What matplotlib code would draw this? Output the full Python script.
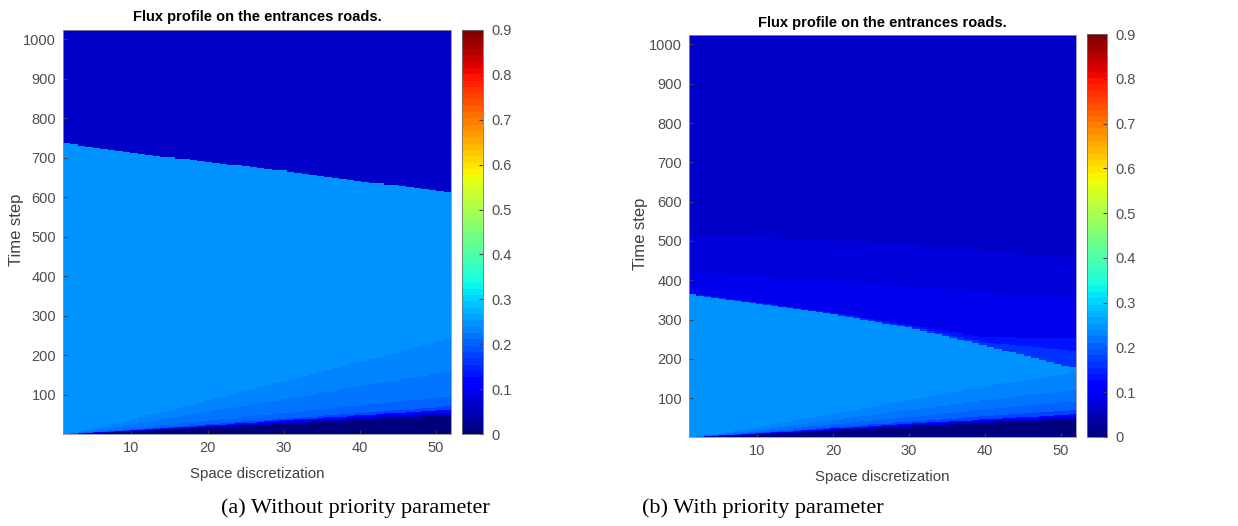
import numpy as np
import matplotlib
matplotlib.use("Agg")
import matplotlib.pyplot as plt

# space cells and time steps of the simulation grid
n_space = 52
n_time = 1024

x_read = [1, 10, 20, 30, 40, 52]

# (a) without priority parameter: flux value of each band and the
# time step of its upper edge at x_read (listed top to bottom)
flux_top_a = 0.068
band_flux_a = [0.25, 0.236, 0.222, 0.20, 0.17, 0.12, 0.06, 0.012]
band_edges_a = [
    [737, 712, 690, 668, 642, 614],
    [0, 38, 86, 134, 182, 240],
    [0, 25, 57, 88, 120, 158],
    [0, 15, 34, 53, 72, 95],
    [0, 11, 25, 39, 53, 70],
    [0, 10, 22, 35, 47, 62],
    [0, 9, 20, 31, 42, 54],
    [0, 7, 16, 26, 36, 48],
]

# (b) with priority parameter
flux_top_b = 0.068
band_flux_b = [0.08, 0.095, 0.139, 0.157, 0.25, 0.236, 0.222, 0.20, 0.17,
               0.12, 0.06, 0.012]
band_edges_b = [
    [515, 510, 500, 490, 475, 456],
    [418, 410, 398, 385, 370, 355],
    [364, 342, 316, 286, 255, 252],
    [363, 341, 314, 282, 242, 220],
    [363, 340, 313, 280, 235, 178],
    [0, 26, 60, 94, 128, 165],
    [0, 19, 44, 68, 93, 120],
    [0, 14, 33, 51, 70, 90],
    [0, 11, 25, 39, 53, 68],
    [0, 10, 22, 34, 45, 58],
    [0, 9, 20, 31, 42, 52],
    [0, 7, 16, 26, 36, 46],
]

cb_ticks = [0, 0.1, 0.2, 0.3, 0.4, 0.5, 0.6, 0.7, 0.8, 0.9]
x_ticks = [10, 20, 30, 40, 50]
y_ticks = [100, 200, 300, 400, 500, 600, 700, 800, 900, 1000]
title = "Flux profile on the entrances roads."
captions = ["(a) Without priority parameter", "(b) With priority parameter"]


def build_field(top, fluxes, edges):
    x = np.arange(1, n_space + 1)
    t = np.arange(1, n_time + 1)[:, None]
    z = np.full((n_time, n_space), top)
    for val, e in zip(fluxes, edges):
        edge = np.interp(x, x_read, e)[None, :]
        z = np.where(t <= edge, val, z)
    return z


plt.rcParams['font.family'] = ['Liberation Sans', 'DejaVu Sans']
cmap = plt.get_cmap('jet', 64)
grey = '#404040'

fig = plt.figure(figsize=(12.38, 5.26), dpi=100)
W, H = 1238.0, 526.0

panels = [
    dict(z=build_field(flux_top_a, band_flux_a, band_edges_a),
         ax=(63, 30, 451, 434), cb=(462, 30, 483, 434),
         title_xy=(257, 17), ylab_x=16, xlab_y=474, cap_x=355),
    dict(z=build_field(flux_top_b, band_flux_b, band_edges_b),
         ax=(689, 35, 1076, 437), cb=(1087, 34, 1107, 437),
         title_xy=(882, 23), ylab_x=641, xlab_y=477, cap_x=763),
]


def rect(x0, y0, x1, y1):
    return [x0 / W, 1 - y1 / H, (x1 - x0) / W, (y1 - y0) / H]


for i, p in enumerate(panels):
    ax = fig.add_axes(rect(*p['ax']))
    im = ax.imshow(p['z'], cmap=cmap, vmin=0, vmax=0.9, origin='lower',
                   aspect='auto', extent=[1, n_space, 1, n_time],
                   interpolation='nearest')
    ax.set_xticks(x_ticks)
    ax.set_yticks(y_ticks)
    ax.tick_params(direction='in', length=3, labelsize=10.5, colors=grey,
                   labelcolor='#4d4d4d', pad=5)
    for s in ax.spines.values():
        s.set_color('#9090a0')
        s.set_linewidth(0.6)
    fig.text(p['title_xy'][0] / W, 1 - p['title_xy'][1] / H, title,
             ha='center', va='center', fontsize=10.5, fontweight='bold')
    fig.text(p['ylab_x'] / W, 1 - ((p['ax'][1] + p['ax'][3]) / 2 - 2) / H,
             "Time step", rotation=90, ha='center', va='center',
             fontsize=12, color=grey)
    fig.text((p['ax'][0] + p['ax'][2]) / 2 / W, 1 - p['xlab_y'] / H,
             "Space discretization", ha='center', va='center',
             fontsize=10.8, color=grey)
    fig.text(p['cap_x'] / W, 1 - 508 / H, captions[i], ha='center',
             va='center', fontsize=16, family='Liberation Serif')

    cax = fig.add_axes(rect(*p['cb']))
    cb = fig.colorbar(im, cax=cax, ticks=cb_ticks)
    cb.ax.set_yticklabels([f"{v:g}" for v in cb_ticks])
    cb.ax.tick_params(direction='in', length=3, labelsize=10.5, colors=grey,
                      labelcolor='#4d4d4d', pad=6)
    cb.outline.set_edgecolor('#707070')
    cb.outline.set_linewidth(0.6)

fig.savefig("out.png", dpi=100)
